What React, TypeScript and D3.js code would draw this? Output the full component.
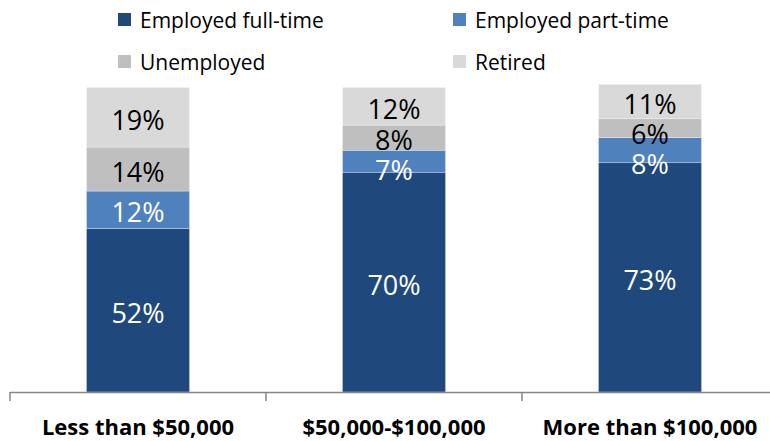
import * as d3 from "d3";

const categories = ["Less than $50,000", "$50,000-$100,000", "More than $100,000"];
const seriesNames = ["Employed full-time", "Employed part-time", "Unemployed", "Retired"];
const fullTime = [52, 70, 73];
const partTime = [12, 7, 8];
const unemployed = [14, 8, 6];
const retired = [19, 12, 11];

const colors = ["#1F497D", "#4F81BD", "#BFBFBF", "#D9D9D9"];
const labelColors = ["#fff", "#fff", "#000", "#000"];

const W = 770;
const H = 441;
const FONT = "'Open Sans', sans-serif";

export default function App() {
  const rows = categories.map((c, i) => ({
    cat: c,
    s0: fullTime[i],
    s1: partTime[i],
    s2: unemployed[i],
    s3: retired[i],
  }));
  const keys = ["s0", "s1", "s2", "s3"];
  const stacked = d3.stack<any>().keys(keys)(rows);

  // bands run from the first tick at x=10, one band per category
  const x = d3.scaleBand().domain(categories).range([10, 778]).paddingInner(0).paddingOuter(0);
  const y = d3.scaleLinear().domain([0, 100]).range([392, 78]);
  const barW = 103;

  // label positions: segment centre, pushed down if too close to the one above
  const labels: { x: number; y: number; text: string; color: string }[] = [];
  categories.forEach((c, ci) => {
    let prev = -Infinity;
    for (let k = keys.length - 1; k >= 0; k--) {
      const seg = stacked[k][ci];
      let cy = (y(seg[0]) + y(seg[1])) / 2 + 2;
      if (cy - prev < 30) cy = prev + 30;
      prev = cy;
      labels.push({
        x: x(c)! + x.bandwidth() / 2,
        y: cy,
        text: `${seg[1] - seg[0]}%`,
        color: labelColors[k],
      });
    }
  });

  const legendPos = [
    [118, 13],
    [453, 13],
    [118, 55],
    [453, 55],
  ];

  return (
    <svg
      width={W}
      height={H}
      style={{ display: "block", position: "fixed", left: 0, top: 0 }}
      fontFamily={FONT}
    >
      <rect width={W} height={H} fill="#fff" />
      {legendPos.map(([lx, ly], i) => (
        <g key={i}>
          <rect x={lx} y={ly} width={13} height={13} fill={colors[i]} />
          <text x={lx + 22} y={ly + 15} fontSize={21} fill="#000">
            {seriesNames[i]}
          </text>
        </g>
      ))}
      {stacked.map((layer, k) =>
        layer.map((seg, ci) => (
          <rect
            key={`${k}-${ci}`}
            x={x(categories[ci])! + x.bandwidth() / 2 - barW / 2}
            y={y(seg[1])}
            width={barW}
            height={y(seg[0]) - y(seg[1])}
            fill={colors[k]}
            stroke="#fff"
            strokeWidth={0.5}
            strokeOpacity={0.6}
          />
        ))
      )}
      {labels.map((l, i) => (
        <text
          key={i}
          x={l.x}
          y={l.y}
          textAnchor="middle"
          dominantBaseline="central"
          fontSize={27}
          fill={l.color}
        >
          {l.text}
        </text>
      ))}
      <line x1={10} x2={W} y1={392.5} y2={392.5} stroke="#868686" strokeWidth={1.5} />
      {[...categories.map((c) => x(c)!), 778].map((t, i) => (
        <line key={i} x1={t} x2={t} y1={392} y2={401} stroke="#868686" strokeWidth={1.5} />
      ))}
      {categories.map((c) => (
        <text
          key={c}
          x={x(c)! + x.bandwidth() / 2}
          y={435}
          textAnchor="middle"
          fontSize={22}
          fontWeight="bold"
          fill="#000"
        >
          {c}
        </text>
      ))}
    </svg>
  );
}
